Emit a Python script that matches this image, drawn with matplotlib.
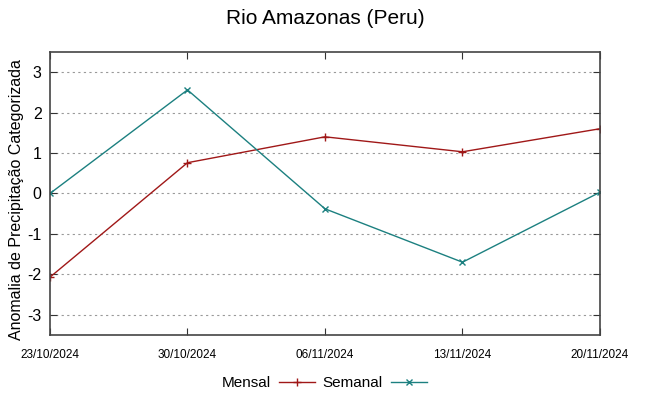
import matplotlib.pyplot as plt

dates = ["23/10/2024", "30/10/2024", "06/11/2024", "13/11/2024", "20/11/2024"]
mensal = [-2.07, 0.76, 1.40, 1.03, 1.60]
semanal = [0.0, 2.56, -0.38, -1.70, 0.03]

plt.rcParams["font.family"] = ["Liberation Sans", "DejaVu Sans"]
plt.rcParams["axes.unicode_minus"] = False

fig = plt.figure(figsize=(6.49, 3.96), dpi=100)
ax = fig.add_axes([0.077, 0.154, 0.8475, 0.715])

x = list(range(len(dates)))
ax.plot(x, mensal, color="#a01818", marker="+", markersize=6, mew=1, lw=1, label="Mensal")
ax.plot(x, semanal, color="#1c8080", marker="x", markersize=5, mew=1, lw=1, label="Semanal")

ax.set_xlim(0, len(dates) - 1)
ax.set_ylim(-3.5, 3.5)
ax.set_xticks(x)
ax.set_xticklabels(dates, fontsize=8.5)
ax.set_yticks([-3, -2, -1, 0, 1, 2, 3])
ax.tick_params(axis="y", labelsize=11.5, pad=6)
ax.tick_params(direction="in", top=True, right=True, length=5, color="#333333")
ax.tick_params(axis="x", pad=10)
ax.yaxis.grid(True, linestyle=(0, (2, 3)), color="#999999", lw=0.8)
for s in ax.spines.values():
    s.set_color("#444444")
    s.set_linewidth(1.2)

ax.set_ylabel("Anomalia de Precipitação Categorizada", fontsize=11.5, labelpad=0)
ax.yaxis.set_label_coords(-0.048, 0.48)
ax.set_title("Rio Amazonas (Peru)", fontsize=15, pad=20)

fig.legend(loc="lower center", ncol=2, frameon=False, markerfirst=False,
           fontsize=11, bbox_to_anchor=(0.5, -0.02), handlelength=2.4,
           handletextpad=0.5, columnspacing=0.5)

fig.savefig("out.png", dpi=100)
